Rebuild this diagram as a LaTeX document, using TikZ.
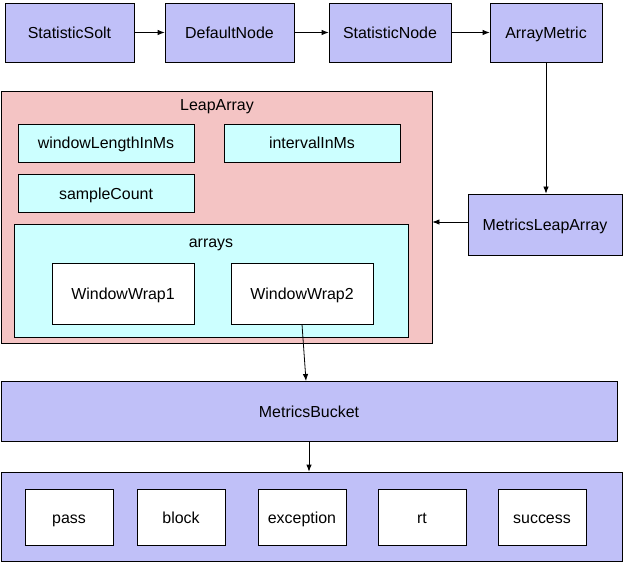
\documentclass[tikz,border=0pt]{standalone}
\usepackage{fontspec}
\setmainfont{Liberation Sans}
\usepackage{tikz}
\usetikzlibrary{arrows.meta,positioning,calc}
\definecolor{MetricBlue}{RGB}{192,192,248}
\definecolor{LeapPink}{RGB}{244,196,196}
\definecolor{FieldCyan}{RGB}{204,255,255}

\begin{document}
\begin{tikzpicture}[x=1bp,y=-1bp,>={Latex[length=7bp,width=5.5bp]},
    every node/.style={font=\fontsize{16}{19}\selectfont,inner sep=0pt,
      text height=13.5bp,text depth=1.5bp},
    frame/.style={draw,line width=0.8bp},
    metricbox/.style={frame,fill=MetricBlue,minimum height=59bp},
    fieldbox/.style={frame,fill=FieldCyan,minimum width=176bp,minimum height=38bp},
    wrapbox/.style={frame,fill=white,minimum width=142bp,minimum height=61bp},
    statbox/.style={frame,fill=white,minimum width=88bp,minimum height=56bp},
    link/.style={->,line width=0.8bp}]
  \useasboundingbox (0,0) rectangle (623,563);
  % call chain
  \node[metricbox,minimum width=129bp] (solt) at (69.5,32.5) {StatisticSolt};
  \node[metricbox,minimum width=129bp] (dnode) at (229.5,32.5) {DefaultNode};
  \node[metricbox,minimum width=122bp] (snode) at (390,32.5) {StatisticNode};
  \node[metricbox,minimum width=112bp] (ametric) at (546,32.5) {ArrayMetric};
  \node[metricbox,minimum width=154bp,minimum height=61bp] (mla) at (545,224.5) {MetricsLeapArray};
  % LeapArray
  \node[frame,fill=LeapPink,minimum width=431bp,minimum height=252bp] (leap) at (216.5,217) {};
  \node (leaplbl) at (217,105) {LeapArray};
  \node[fieldbox] (wlen) at (106,143) {windowLengthInMs};
  \node[fieldbox] (interval) at (312,143) {intervalInMs};
  \node[fieldbox] (scount) at (106,193) {sampleCount};
  \node[frame,fill=FieldCyan,minimum width=394bp,minimum height=113bp] (arrays) at (211,280.5) {};
  \node (arrayslbl) at (211,241) {arrays};
  \node[wrapbox] (ww1) at (123,293.5) {WindowWrap1};
  \node[wrapbox] (ww2) at (302,293.5) {WindowWrap2};
  % buckets
  \node[frame,fill=MetricBlue,minimum width=616bp,minimum height=60bp] (bucket) at (309,411) {MetricsBucket};
  \node[frame,fill=MetricBlue,minimum width=621bp,minimum height=89bp] (stats) at (311.5,516.5) {};
  \foreach \name/\cx in {pass/69,block/181,exception/302,rt/422,success/542}
    \node[statbox] (\name) at (\cx,517) {\name};
  \coordinate (bin) at (306,381);
  % arrows
  \draw[link] (solt) -- (dnode);
  \draw[link] (dnode) -- (snode);
  \draw[link] (snode) -- (ametric);
  \draw[link] (ametric.south) -- (ametric.south |- mla.north);
  \draw[link] ($(mla.west)+(0,-2.5)$) -- ($(mla.west -| leap.east)+(0,-2.5)$);
  \draw[link] (ww2.south) -- (bin);
  \draw[link] (bucket.south) -- (bucket.south |- stats.north);
\end{tikzpicture}
\end{document}
